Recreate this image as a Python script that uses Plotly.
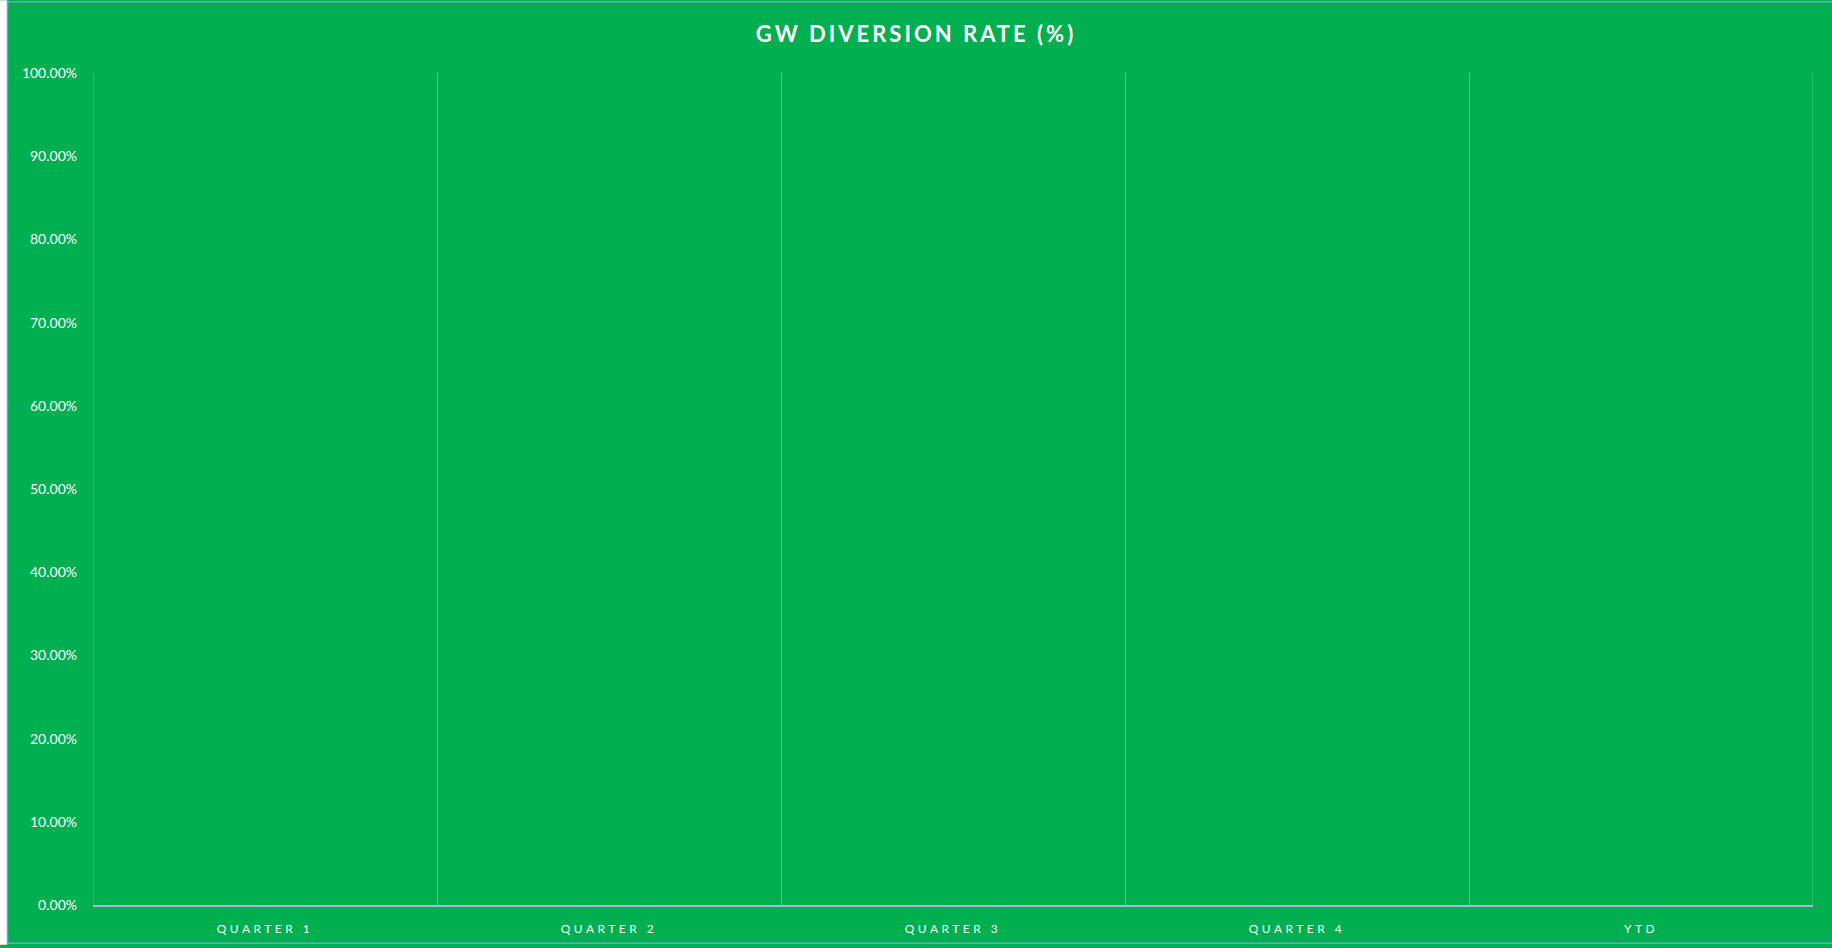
import plotly.graph_objects as go

categories = ["QUARTER 1", "QUARTER 2", "QUARTER 3", "QUARTER 4", "YTD"]
diversion_rate = [0, 0, 0, 0, 0]
y_ticks = [i / 10 for i in range(11)]

W, H = 1832, 948
L, R, T, B = 93, 19, 73, 40
PW, PH = W - L - R, H - T - B

def px_x(p):
    return (p - L) / PW

def px_y(p):
    return (H - B - p) / PH

GREEN = "#00AF50"
BORDER = "#7F9BD6"
GRID = "rgba(255,255,255,0.32)"

def spaced(s, ls):
    return f'<span style="letter-spacing:{ls}px">{s}</span>'

fig = go.Figure()
fig.add_trace(go.Bar(
    x=categories, y=diversion_rate,
    marker=dict(color="#FFFFFF", line=dict(width=0)),
    hoverinfo="skip",
))

n = len(categories)
edge_lines = [
    dict(type="line", xref="x", yref="paper",
         x0=xv, x1=xv, y0=0, y1=1,
         line=dict(color=GRID, width=1), layer="below")
    for xv in (-0.5, n - 0.5)
]

fig.update_layout(
    width=W, height=H,
    margin=dict(l=L, r=R, t=T, b=B),
    paper_bgcolor=GREEN, plot_bgcolor=GREEN,
    showlegend=False,
    title=dict(
        text=spaced("GW DIVERSION RATE (%)", 3),
        x=0.5, xref="container", xanchor="center",
        y=1 - 34 / H, yref="container", yanchor="middle",
        font=dict(family="Lato, Open Sans, sans-serif", size=22, color="#FFFFFF", weight="bold"),
    ),
    font=dict(family="Lato, Open Sans, sans-serif", color="#FFFFFF"),
    xaxis=dict(
        type="category",
        range=[-0.5, n - 0.5],
        tickmode="array",
        tickvals=categories,
        ticktext=[spaced(c, 3.5) for c in categories],
        tickson="boundaries",
        showgrid=True,
        gridcolor=GRID,
        gridwidth=1,
        showline=True,
        linecolor="#A9B4DC",
        linewidth=1.5,
        ticks="",
        tickfont=dict(size=12, color="#FFFFFF"),
        ticklabelstandoff=12,
        zeroline=False,
        fixedrange=True,
    ),
    yaxis=dict(
        range=[0, 1],
        tickmode="array",
        tickvals=y_ticks,
        tickformat=".2%",
        showgrid=False,
        zeroline=False,
        showline=False,
        ticks="",
        tickfont=dict(size=14, color="#FFFFFF"),
        ticklabelstandoff=15,
        fixedrange=True,
    ),
    shapes=edge_lines + [
        dict(type="rect", xref="paper", yref="paper",
             x0=px_x(0), x1=px_x(7), y0=px_y(H), y1=px_y(0),
             fillcolor="#FFFFFF", line=dict(width=0), layer="above"),
        dict(type="line", xref="paper", yref="paper",
             x0=px_x(7.5), x1=px_x(7.5), y0=px_y(H), y1=px_y(0),
             line=dict(color=BORDER, width=1.5), layer="above"),
        dict(type="line", xref="paper", yref="paper",
             x0=px_x(7.5), x1=px_x(W), y0=px_y(1.5), y1=px_y(1.5),
             line=dict(color=BORDER, width=1.5), layer="above"),
        dict(type="line", xref="paper", yref="paper",
             x0=px_x(7.5), x1=px_x(W), y0=px_y(946.5), y1=px_y(946.5),
             line=dict(color=BORDER, width=1.5), layer="above"),
    ],
)

fig.write_html(
    "out.html",
    config={"displayModeBar": False},
    post_script="document.body.style.margin='0';document.documentElement.style.overflow='hidden';document.body.style.overflow='hidden';",
)
